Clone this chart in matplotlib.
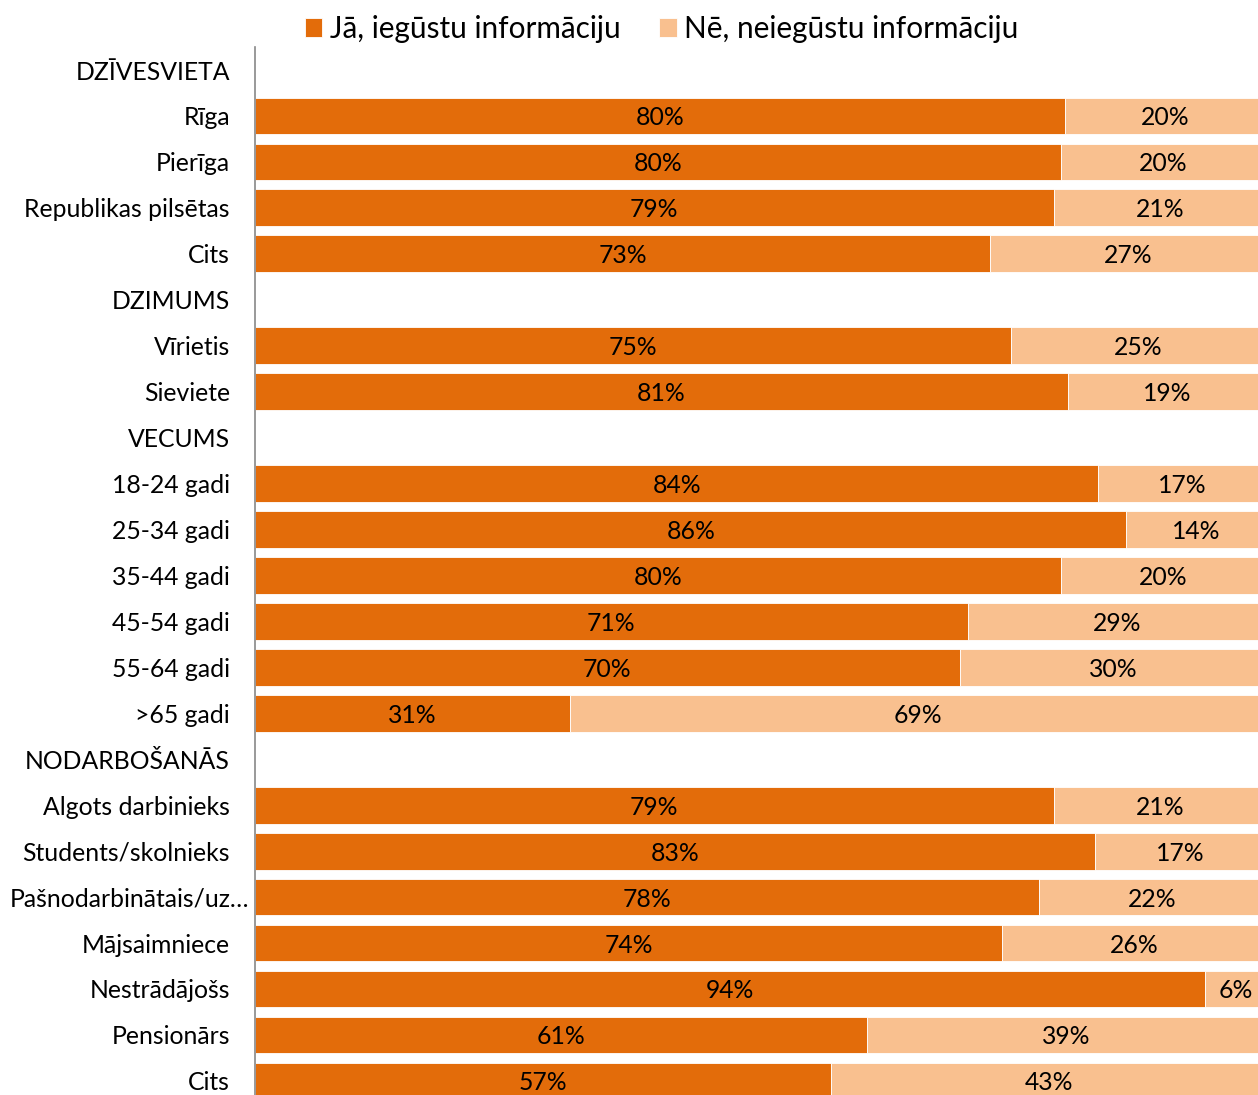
import matplotlib
matplotlib.use('Agg')
import matplotlib.pyplot as plt
import matplotlib.transforms as mtransforms
import numpy as np

plt.rcParams['font.family'] = ['Lato', 'DejaVu Sans']

# rows, top to bottom; None marks a group header row (no bars)
categories = ['DZĪVESVIETA', 'Rīga', 'Pierīga', 'Republikas pilsētas', 'Cits',
              'DZIMUMS', 'Vīrietis', 'Sieviete',
              'VECUMS', '18-24 gadi', '25-34 gadi', '35-44 gadi', '45-54 gadi',
              '55-64 gadi', '>65 gadi',
              'NODARBOŠANĀS', 'Algots darbinieks', 'Students/skolnieks',
              'Pašnodarbinātais/uz…', 'Mājsaimniece', 'Nestrādājošs',
              'Pensionārs', 'Cits']
yes_values = [None, 80.1, 79.7, 79.0, 72.7,
              None, 74.8, 80.4,
              None, 83.4, 86.2, 79.7, 70.5, 69.7, 31.2,
              None, 79.0, 83.1, 77.5, 73.9, 94.0, 60.5, 57.0]
yes_labels = ['', '80%', '80%', '79%', '73%',
              '', '75%', '81%',
              '', '84%', '86%', '80%', '71%', '70%', '31%',
              '', '79%', '83%', '78%', '74%', '94%', '61%', '57%']
no_labels = ['', '20%', '20%', '21%', '27%',
             '', '25%', '19%',
             '', '17%', '14%', '20%', '29%', '30%', '69%',
             '', '21%', '17%', '22%', '26%', '6%', '39%', '43%']
legend_names = ['Jā, iegūstu informāciju', 'Nē, neiegūstu informāciju']

dark = '#E36C0A'
light = '#F9C08F'
fs = 17.8

fig = plt.figure(figsize=(12.58, 10.95), dpi=100)
ax = fig.add_axes([255 / 1258, 0, 1 - 255 / 1258, 1 - 47 / 1095])

rows = np.arange(len(categories))
for i, (yes, yl, nl) in enumerate(zip(yes_values, yes_labels, no_labels)):
    if yes is None:
        continue
    no = 100 - yes
    ax.barh(i, yes, height=0.8, color=dark, edgecolor='white', linewidth=0.6,
            label=legend_names[0] if i == 1 else None)
    ax.barh(i, no, left=yes, height=0.8, color=light, edgecolor='white',
            linewidth=0.6, label=legend_names[1] if i == 1 else None)
    ax.text(yes / 2, i, yl, ha='center', va='center_baseline', fontsize=fs,
            color='black')
    ax.text(yes + no / 2, i, nl, ha='center', va='center_baseline',
            fontsize=fs, color='black')

ax.set_xlim(0, (1258 - 255) / 10.11)
ax.set_ylim((1095 - 70) / 45.95, (47 - 70) / 45.95)
ax.set_yticks(rows)
ax.set_yticklabels(categories, fontsize=fs)
ax.tick_params(axis='y', length=0, pad=18)
ax.set_xticks([])
for s in ['top', 'right', 'bottom']:
    ax.spines[s].set_visible(False)
ax.spines['left'].set_color('#888888')
ax.spines['left'].set_linewidth(1.2)

# the truncated label sits a bit further right, as in the original
for lab in ax.get_yticklabels():
    if lab.get_text().endswith('…'):
        lab.set_transform(lab.get_transform() +
                          mtransforms.ScaledTranslation(0.19, 0, fig.dpi_scale_trans))

fig.legend(loc='center', bbox_to_anchor=(0.526, 1 - 29 / 1095), ncol=2,
           frameon=False, fontsize=21.4, handlelength=0.6, handleheight=0.6,
           handletextpad=0.25, columnspacing=1.3)

fig.savefig('out.png', dpi=100)
